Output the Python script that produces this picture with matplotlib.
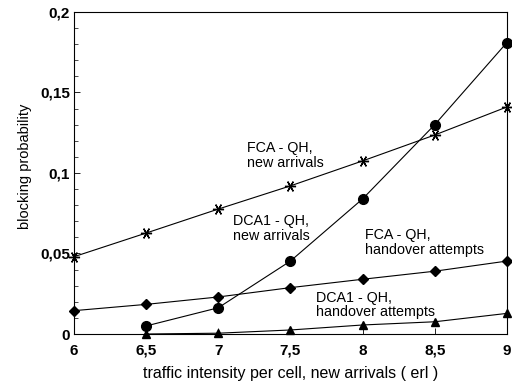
import matplotlib
matplotlib.use("Agg")
import matplotlib.pyplot as plt
from matplotlib.ticker import MultipleLocator

plt.rcParams['font.family'] = ['Liberation Sans', 'DejaVu Sans']

x_full = [6, 6.5, 7, 7.5, 8, 8.5, 9]
x_part = [6.5, 7, 7.5, 8, 8.5, 9]

fca_new = [0.048, 0.0627, 0.0776, 0.092, 0.1075, 0.1236, 0.141]
dca_new = [0.005, 0.0163, 0.0453, 0.0839, 0.130, 0.181]
fca_ho = [0.0145, 0.0184, 0.023, 0.0288, 0.034, 0.039, 0.0453]
dca_ho = [0.0, 0.0005, 0.0025, 0.0056, 0.0076, 0.0128]

xticks = [6, 6.5, 7, 7.5, 8, 8.5, 9]
xticklabels = ["6", "6,5", "7", "7,5", "8", "8,5", "9"]
yticks = [0, 0.05, 0.1, 0.15, 0.2]
yticklabels = ["0", "0,05", "0,1", "0,15", "0,2"]

fig = plt.figure(figsize=(5.12, 3.86), dpi=100)
ax = fig.add_axes([0.1445, 0.1347, 0.8455, 0.8343])

lw = 0.8
ax.plot(x_full, fca_new, color='black', lw=lw, marker=(6, 2, 90), ms=8, mew=1.0, clip_on=False)
ax.plot(x_part, dca_new, color='black', lw=lw, marker='o', ms=7, clip_on=False)
ax.plot(x_full, fca_ho, color='black', lw=lw, marker='D', ms=5, clip_on=False)
ax.plot(x_part, dca_ho, color='black', lw=lw, marker='^', ms=6, clip_on=False)

ax.set_xlim(6, 9)
ax.set_ylim(0, 0.2)
ax.set_xticks(xticks)
ax.set_xticklabels(xticklabels, fontsize=11, fontweight='bold')
ax.set_yticks(yticks)
ax.set_yticklabels(yticklabels, fontsize=11, fontweight='bold')
ax.yaxis.set_minor_locator(MultipleLocator(0.01))
ax.tick_params(direction='in', length=4, width=0.6)
ax.tick_params(axis='x', pad=7)
ax.tick_params(axis='y', pad=3)
ax.tick_params(which='minor', direction='in', length=3, width=0.5)
for s in ax.spines.values():
    s.set_linewidth(0.8)

ax.set_xlabel("traffic intensity per cell, new arrivals ( erl )", fontsize=11.5, labelpad=6)
ax.set_ylabel("blocking probability", fontsize=10.5)
ax.yaxis.set_label_coords(-0.097, 0.52)

fs = 10.3
ls = 1.05
ax.text(7.20, 0.111, "FCA - QH,\nnew arrivals", fontsize=fs, ha='left', va='center', linespacing=ls)
ax.text(7.10, 0.0655, "DCA1 - QH,\nnew arrivals", fontsize=fs, ha='left', va='center', linespacing=ls)
ax.text(8.02, 0.0568, "FCA - QH,\nhandover attempts", fontsize=fs, ha='left', va='center', linespacing=ls)
ax.text(7.68, 0.018, "DCA1 - QH,\nhandover attempts", fontsize=fs, ha='left', va='center', linespacing=ls)

fig.savefig("out.png", dpi=100)
